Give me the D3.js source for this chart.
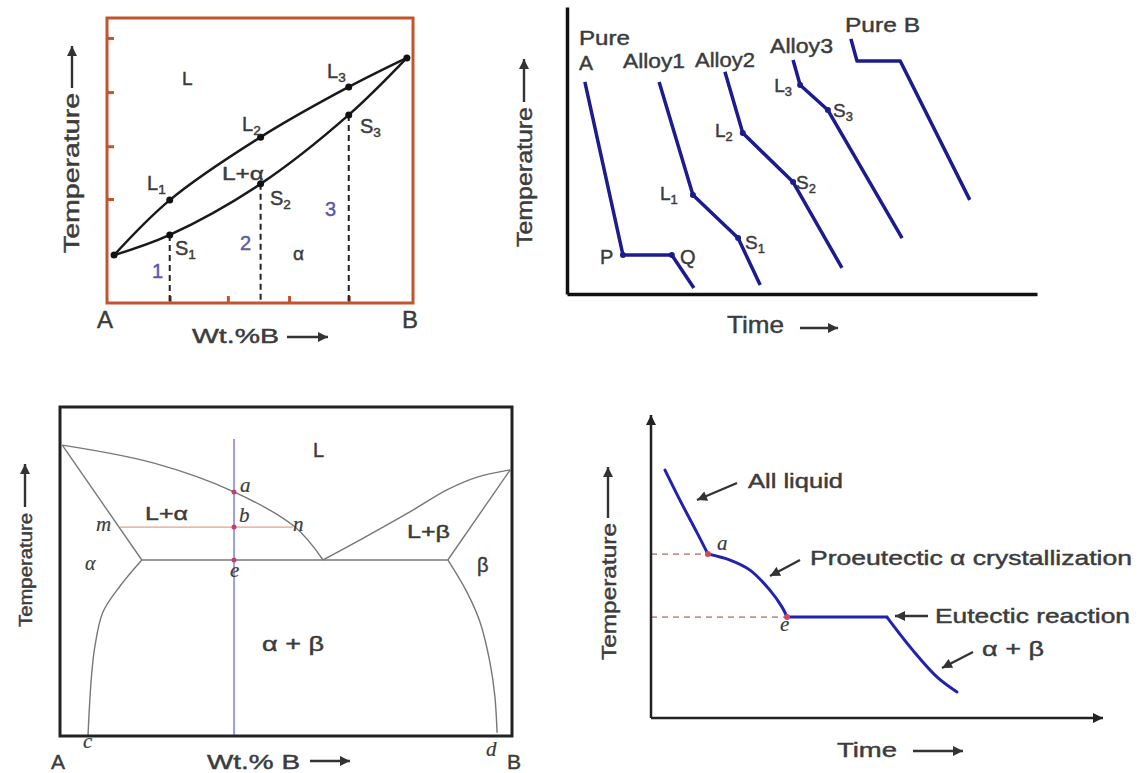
<!DOCTYPE html>
<meta charset="utf-8">
<html>
<head>
<script src="https://cdn.jsdelivr.net/npm/d3@7"></script>
<style>
  body { margin: 0; background: #fff; }
  svg text { font-family: "Liberation Sans", Arial, sans-serif; fill: #3c3c3c; stroke: #3c3c3c; stroke-width: 0.45px; }
</style>
</head>
<body>
<svg id="chart" width="1142" height="773"></svg>
<script>
// --- panel 1: isomorphous diagram, x = wt.% B, y = temperature (0-100)
const isoLiquidus = [[2.3, 16.8], [20.5, 36.1], [50.2, 58.2], [79, 75.8], [98, 86]];
const isoSolidus = [[2.3, 16.8], [20.5, 23.9], [50.2, 41.8], [79, 66], [98, 86]];
const isoAlloyNames = ["1", "2", "3"];
const isoTicksY = [36.5, 55, 74, 93];
const isoTicksX = [20.5, 39.5, 59.5, 79];

// --- panel 2: cooling curves, x = time, y = temperature (0-100)
const coolNames = ["Pure A", "Alloy1", "Alloy2", "Alloy3", "Pure B"];
const coolCurves = [
  [[3.8, 73.9], [11.9, 13.6], [22.3, 13.6], [27.0, 2.1]],
  [[19.6, 73.9], [26.8, 34.5], [36.4, 19.5], [41.1, 3.1]],
  [[33.6, 77.4], [37.4, 56.1], [48.1, 39.0], [58.5, 9.1]],
  [[48.1, 81.5], [49.6, 72.8], [55.5, 64.1], [71.3, 19.5]],
  [[60.4, 88.9], [61.7, 81.2], [70.9, 81.2], [85.7, 32.8]]
];

// --- panel 3: eutectic diagram (0-100)
const eutLiquidusA = [[0.5, 88.4], [20.6, 83], [38.5, 74.2], [52, 63.5], [58.2, 53.5]];
const eutLiquidusB = [[58.2, 53.5], [66.4, 59.6], [77.4, 68.1], [85.6, 74.8], [92.3, 78.7], [99.6, 80.9]];
const eutSolidusA = [[0.5, 88.4], [18.1, 53.5]];
const eutSolidusB = [[85.8, 53.5], [99.6, 80.9]];
const eutSolvusA = [[18.1, 53.5], [13.3, 45.6], [9.5, 37.7], [7.7, 27.1], [6.9, 17.0], [6.2, 0.3]];
const eutSolvusB = [[85.8, 53.5], [90.0, 43.8], [92.9, 34.7], [95.1, 22.5], [96.2, 12.2], [96.7, 1.0]];
const eutIsotherm = [[18.1, 53.5], [85.8, 53.5]];
const eutAlloyX = 38.5;
const eutAlloyTop = 90.3;
const eutTieLine = [[13.3, 63.5], [51.5, 63.5]];
const eutPoints = [["a", 74.2], ["b", 63.5], ["e", 53.5]];

// --- panel 4: cooling curve of the hypoeutectic alloy (0-100)
const coolLiquid = [[3.1, 81.8], [6.4, 71.9], [10.2, 61.1], [12.6, 54.1]];
const coolProeut = [[12.6, 54.1], [17.5, 52.1], [21.9, 48.8], [26.3, 42.2], [29.0, 36.6], [30.1, 33.3]];
const coolEutectic = [[30.1, 33.3], [52.2, 33.3]];
const coolSolid = [[52.2, 33.3], [57.9, 22.4], [63.3, 13.5], [67.7, 8.6]];

const svg = d3.select("#chart");
const defs = svg.append("defs");
const ink = "#333";

function marker(id, w, h, color) {
  defs.append("marker").attr("id", id)
    .attr("viewBox", "0 0 10 10").attr("refX", 10).attr("refY", 5)
    .attr("markerUnits", "userSpaceOnUse")
    .attr("markerWidth", w).attr("markerHeight", h)
    .attr("orient", "auto")
    .append("path").attr("d", "M0,0L10,5L0,10z").attr("fill", color);
}
marker("arr", 12, 10, ink);
marker("axarr", 14, 10, "#222");

function text(g, x, y, str, o = {}) {
  const t = g.append("text").attr("x", x).attr("y", y).text(str)
    .style("font-size", (o.size || 20) + "px");
  if (o.len) t.attr("textLength", o.len).attr("lengthAdjust", "spacingAndGlyphs");
  if (o.italic) t.style("font-style", "italic").style("font-family", "'Liberation Serif', 'Times New Roman', serif").style("stroke-width", "0.2px");
  if (o.color) t.style("fill", o.color).style("stroke", o.color);
  if (o.anchor) t.attr("text-anchor", o.anchor);
  return t;
}

function subText(g, x, y, main, sub, size, anchor) {
  const t = g.append("text").attr("x", x).attr("y", y).style("font-size", size + "px");
  if (anchor) t.attr("text-anchor", anchor);
  t.append("tspan").text(main);
  t.append("tspan").text(sub).attr("dy", size * 0.22).style("font-size", (size * 0.68) + "px");
  return t;
}

function arrow(g, x1, y1, x2, y2, w) {
  g.append("line").attr("x1", x1).attr("y1", y1).attr("x2", x2).attr("y2", y2)
    .attr("stroke", ink).attr("stroke-width", w || 2.4).attr("marker-end", "url(#arr)");
}

// rotated "Temperature ->" label, baseline at bx, text starting at y0
function tempLabel(g, bx, y0, size, len, ax, a1, a2) {
  g.append("text").attr("transform", `translate(${bx},${y0}) rotate(-90)`)
    .attr("textLength", len).attr("lengthAdjust", "spacingAndGlyphs")
    .style("font-size", size + "px").text("Temperature");
  arrow(g, ax, a1, ax, a2, 2.4);
}

// ================= panel 1 =================
const p1 = svg.append("g");
const x1 = d3.scaleLinear().domain([0, 100]).range([107, 413]);
const y1 = d3.scaleLinear().domain([0, 100]).range([303, 18]);
const brown = "#c0552f";
const line1 = d3.line().x(d => x1(d[0])).y(d => y1(d[1])).curve(d3.curveCatmullRom);

p1.append("g").attr("transform", `translate(${x1(0)},0)`)
  .call(d3.axisRight(y1).tickValues(isoTicksY).tickSize(7).tickFormat("").tickSizeOuter(0))
  .call(g => g.select(".domain").remove())
  .selectAll("line").attr("stroke", brown).attr("stroke-width", 3);
p1.append("g").attr("transform", `translate(0,${y1(0)})`)
  .call(d3.axisTop(x1).tickValues(isoTicksX).tickSize(7).tickFormat("").tickSizeOuter(0))
  .call(g => g.select(".domain").remove())
  .selectAll("line").attr("stroke", brown).attr("stroke-width", 3);

isoAlloyNames.forEach((n, i) => {
  const s = isoSolidus[i + 1];
  p1.append("line").attr("x1", x1(s[0])).attr("x2", x1(s[0]))
    .attr("y1", y1(s[1])).attr("y2", y1(0))
    .attr("stroke", "#222").attr("stroke-width", 2).attr("stroke-dasharray", "6,4");
});

p1.append("rect").attr("x", x1(0)).attr("y", y1(100))
  .attr("width", x1(100) - x1(0)).attr("height", y1(0) - y1(100))
  .attr("fill", "none").attr("stroke", brown).attr("stroke-width", 3);

[isoLiquidus, isoSolidus].forEach(d => {
  p1.append("path").attr("d", line1(d)).attr("fill", "none")
    .attr("stroke", "#1a1a1a").attr("stroke-width", 2.5);
});
const isoDots = [isoLiquidus[0], isoLiquidus[4]]
  .concat(isoLiquidus.slice(1, 4), isoSolidus.slice(1, 4));
p1.selectAll(".isodot").data(isoDots).join("circle")
  .attr("cx", d => x1(d[0])).attr("cy", d => y1(d[1])).attr("r", 3.5).attr("fill", "#111");

text(p1, 182, 85, "L", {size: 19});
subText(p1, 147, 190, "L", "1", 20);
subText(p1, 242, 131, "L", "2", 20);
subText(p1, 327, 78, "L", "3", 20);
text(p1, 222, 180, "L+α", {size: 19, len: 42});
subText(p1, 175, 255, "S", "1", 20);
subText(p1, 270, 205, "S", "2", 20);
subText(p1, 360, 133, "S", "3", 20);
text(p1, 152, 278, isoAlloyNames[0], {size: 20, color: "#5a5aa8"});
text(p1, 240, 250, isoAlloyNames[1], {size: 20, color: "#5a5aa8"});
text(p1, 325, 216, isoAlloyNames[2], {size: 20, color: "#5a5aa8"});
text(p1, 293, 260, "α", {size: 19});
text(p1, 97, 328, "A", {size: 24});
text(p1, 402, 328, "B", {size: 24});
text(p1, 192, 343, "Wt.%B", {size: 21, len: 87});
arrow(p1, 287, 337, 328, 337);
tempLabel(p1, 79, 253, 22, 160, 72, 88, 46);

// ================= panel 2 =================
const p2 = svg.append("g");
const x2 = d3.scaleLinear().domain([0, 100]).range([567, 1037]);
const y2 = d3.scaleLinear().domain([0, 100]).range([294, 7]);
const blue = "#1c1c8e";
const line2 = d3.line().x(d => x2(d[0])).y(d => y2(d[1]));

p2.append("g").attr("transform", `translate(${x2(0)},0)`)
  .call(d3.axisLeft(y2).tickValues([]).tickSizeOuter(0))
  .select(".domain").attr("stroke", "#111").attr("stroke-width", 3.5);
p2.append("g").attr("transform", `translate(0,${y2(0)})`)
  .call(d3.axisBottom(x2).tickValues([]).tickSizeOuter(0))
  .select(".domain").attr("stroke", "#111").attr("stroke-width", 3.5);

coolCurves.forEach((c, i) => {
  p2.append("path").attr("d", line2(c)).attr("fill", "none")
    .attr("stroke", blue).attr("stroke-width", 3.5).attr("stroke-linejoin", "round");
  if (i < 4) {
    p2.selectAll(".cd" + i).data(c.slice(1, 3)).join("circle")
      .attr("cx", d => x2(d[0])).attr("cy", d => y2(d[1])).attr("r", 3).attr("fill", blue);
  }
});

text(p2, 579, 45, "Pure", {size: 21, len: 51});
text(p2, 579, 70, "A", {size: 21});
text(p2, 623, 68, coolNames[1], {size: 21, len: 62});
text(p2, 695, 67, coolNames[2], {size: 21, len: 60});
text(p2, 770, 53, coolNames[3], {size: 21, len: 63});
text(p2, 845, 32, coolNames[4], {size: 21, len: 75});
text(p2, 600, 264, "P", {size: 20});
text(p2, 680, 264, "Q", {size: 20});
subText(p2, 660, 200, "L", "1", 19);
subText(p2, 745, 249, "S", "1", 19);
subText(p2, 715, 137, "L", "2", 19);
subText(p2, 796, 189, "S", "2", 19);
subText(p2, 792, 92, "L", "3", 19, "end");
subText(p2, 833, 117, "S", "3", 19);
text(p2, 727, 333, "Time", {size: 24, len: 57});
arrow(p2, 800, 328, 838, 328);
tempLabel(p2, 532, 247, 22, 140, 524, 102, 59);

// ================= panel 3 =================
const p3 = svg.append("g");
const x3 = d3.scaleLinear().domain([0, 100]).range([60, 512]);
const y3 = d3.scaleLinear().domain([0, 100]).range([736, 407]);
const gray = "#777";
const line3 = d3.line().x(d => x3(d[0])).y(d => y3(d[1]));
const curve3 = d3.line().x(d => x3(d[0])).y(d => y3(d[1])).curve(d3.curveCatmullRom);

p3.append("path").attr("d", line3(eutTieLine)).attr("stroke", "#e2a294").attr("stroke-width", 1.2).attr("fill", "none");
p3.append("line").attr("x1", x3(eutAlloyX)).attr("x2", x3(eutAlloyX))
  .attr("y1", y3(eutAlloyTop)).attr("y2", y3(0))
  .attr("stroke", "#6b6bd6").attr("stroke-width", 1.3);

[eutLiquidusA, eutLiquidusB, eutSolvusA, eutSolvusB].forEach(d => {
  p3.append("path").attr("d", curve3(d)).attr("fill", "none").attr("stroke", gray).attr("stroke-width", 1.4);
});
[eutSolidusA, eutSolidusB, eutIsotherm].forEach(d => {
  p3.append("path").attr("d", line3(d)).attr("fill", "none").attr("stroke", gray).attr("stroke-width", 1.4);
});
p3.selectAll(".ep").data(eutPoints).join("circle")
  .attr("cx", x3(eutAlloyX)).attr("cy", d => y3(d[1])).attr("r", 2.5).attr("fill", "#c0406a");

p3.append("rect").attr("x", x3(0)).attr("y", y3(100))
  .attr("width", x3(100) - x3(0)).attr("height", y3(0) - y3(100))
  .attr("fill", "none").attr("stroke", "#222").attr("stroke-width", 3);

text(p3, 240, 492, "a", {size: 21, italic: true});
text(p3, 239, 522, "b", {size: 21, italic: true});
text(p3, 230, 577, "e", {size: 21, italic: true});
text(p3, 96, 531, "m", {size: 21, italic: true});
text(p3, 293, 531, "n", {size: 21, italic: true});
text(p3, 83, 748, "c", {size: 21, italic: true});
text(p3, 486, 756, "d", {size: 21, italic: true});
text(p3, 313, 457, "L", {size: 20});
text(p3, 145, 520, "L+α", {size: 19, len: 43});
text(p3, 85, 570, "α", {size: 20, italic: true});
text(p3, 407, 538, "L+β", {size: 19, len: 43});
text(p3, 477, 572, "β", {size: 20});
text(p3, 262, 651, "α + β", {size: 20, len: 62});
text(p3, 51, 769, "A", {size: 21});
text(p3, 507, 769, "B", {size: 21});
text(p3, 207, 769, "Wt.% B", {size: 20, len: 93});
arrow(p3, 310, 761, 350, 761);
tempLabel(p3, 32, 627, 18, 114, 25, 507, 464);

// ================= panel 4 =================
const p4 = svg.append("g");
const x4 = d3.scaleLinear().domain([0, 100]).range([651, 1103]);
const y4 = d3.scaleLinear().domain([0, 100]).range([718, 415]);
const curve4 = d3.line().x(d => x4(d[0])).y(d => y4(d[1])).curve(d3.curveCatmullRom);
const blue4 = "#2222b0";

coolEutectic.slice(0, 1).concat([coolProeut[0]]).forEach(d => {
  p4.append("line").attr("x1", x4(0)).attr("x2", x4(d[0]))
    .attr("y1", y4(d[1])).attr("y2", y4(d[1]))
    .attr("stroke", "#c89090").attr("stroke-width", 1.8).attr("stroke-dasharray", "6,5");
});

p4.append("line").attr("x1", x4(0)).attr("x2", x4(0)).attr("y1", y4(0)).attr("y2", y4(100))
  .attr("stroke", "#222").attr("stroke-width", 2.5).attr("marker-end", "url(#axarr)");
p4.append("line").attr("x1", x4(0)).attr("x2", x4(100)).attr("y1", y4(0)).attr("y2", y4(0))
  .attr("stroke", "#222").attr("stroke-width", 2.5).attr("marker-end", "url(#axarr)");

[coolLiquid, coolProeut, coolEutectic, coolSolid].forEach(d => {
  p4.append("path").attr("d", curve4(d)).attr("fill", "none")
    .attr("stroke", blue4).attr("stroke-width", 3).attr("stroke-linecap", "round");
});
p4.selectAll(".kd").data([coolProeut[0], coolEutectic[0]]).join("circle")
  .attr("cx", d => x4(d[0])).attr("cy", d => y4(d[1])).attr("r", 3).attr("fill", "#d04860");

text(p4, 748, 488, "All liquid", {size: 21, len: 95});
arrow(p4, 737, 483, 697, 500);
text(p4, 717, 550, "a", {size: 21, italic: true});
text(p4, 780, 631, "e", {size: 21, italic: true});
text(p4, 810, 565, "Proeutectic α crystallization", {size: 21, len: 322});
arrow(p4, 800, 560, 770, 576);
text(p4, 935, 623, "Eutectic reaction", {size: 21, len: 195});
arrow(p4, 928, 616, 895, 616);
text(p4, 982, 656, "α + β", {size: 21, len: 62});
arrow(p4, 973, 652, 942, 668);
text(p4, 837, 757, "Time", {size: 21, len: 60});
arrow(p4, 913, 751, 963, 751);
tempLabel(p4, 616, 660, 21, 137, 608, 518, 467);
</script>
</body>
</html>
